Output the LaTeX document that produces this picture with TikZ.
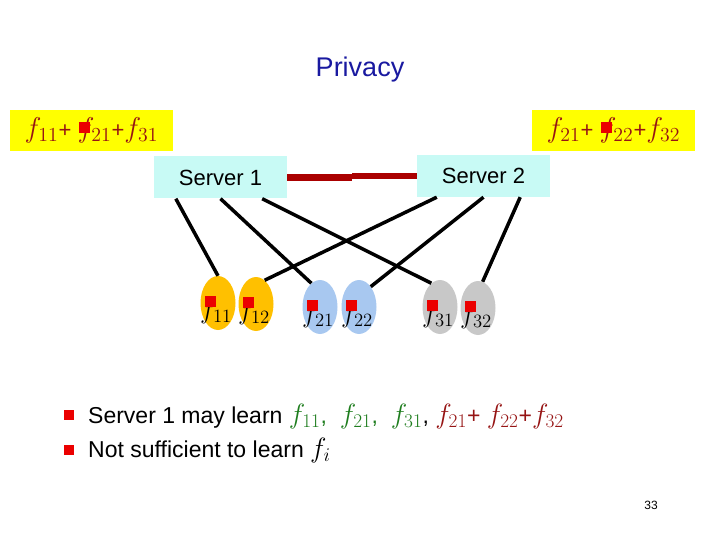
\documentclass[tikz,border=0pt]{standalone}
\usepackage[no-math]{fontspec}
\setmainfont{Liberation Sans}
\usepackage{xcolor}
\usetikzlibrary{shapes.geometric,positioning}

\definecolor{titleblue}{RGB}{25,25,160}
\definecolor{sumred}{RGB}{150,20,20}
\definecolor{sumyellow}{RGB}{255,255,0}
\definecolor{servercyan}{RGB}{200,250,245}
\definecolor{linkred}{RGB}{170,0,0}
\definecolor{glyphred}{RGB}{235,0,0}
\definecolor{orangeblob}{RGB}{255,192,0}
\definecolor{blueblob}{RGB}{168,200,240}
\definecolor{grayblob}{RGB}{200,200,200}
\definecolor{learngreen}{RGB}{30,125,30}

% math f with subscript, scaled up
\newcommand{\fbig}[1]{\scalebox{1.38}{$f_{#1}$}}
\newcommand{\flab}[1]{\scalebox{1.3}{$f_{#1}$}}
\newcommand{\fmid}[1]{\scalebox{1.12}{$f_{#1}$}}

\tikzstyle{sumbox}=[fill=sumyellow, text=sumred, minimum width=163pt, minimum height=41pt,
    inner sep=0pt, font=\fontsize{22}{24}\selectfont]
\tikzstyle{serverbox}=[fill=servercyan, minimum width=133pt, minimum height=42pt,
    inner sep=0pt, font=\fontsize{22}{24}\selectfont]
\tikzstyle{blob}=[ellipse, minimum width=35pt, minimum height=54pt, inner sep=0pt]
\tikzstyle{flabel}=[inner sep=0pt, font=\fontsize{20}{22}\selectfont]
\tikzstyle{glyph}=[fill=glyphred, minimum size=11pt, inner sep=0pt]
\tikzstyle{bullet}=[fill=glyphred, minimum size=10pt, inner sep=0pt]
\tikzstyle{share}=[line width=3.5pt, black]
\tikzstyle{link}=[line width=6.5pt, linkred]

\begin{document}
\begin{tikzpicture}[x=1pt,y=-1pt]
    \useasboundingbox (0,0) rectangle (720,540);

    % Title
    \node[text=titleblue, font=\fontsize{27}{30}\selectfont] (title) at (360,70) {Privacy};

    % Sums kept by the servers
    \node[sumbox] (sum1) at (91.5,130.5) {\fbig{11}+ \fbig{21}+\fbig{31}};
    \node[sumbox] (sum2) at (613.5,130.5) {\fbig{21}+ \fbig{22}+\fbig{32}};
    \node[glyph] (g1) at (84,127.5) {};
    \node[glyph] (g2) at (606,127.5) {};

    % Servers
    \node[serverbox] (s1) at (220.5,177.5) {Server 1};
    \node[serverbox] (s2) at (483.5,176) {Server 2};
    \draw[link] (s1.east) -- ++(65,0);
    \draw[link] (s2.west) -- ++(-65,0);

    % Shares
    \foreach \name/\x/\y/\col in {11/218/303/orangeblob, 12/256/304/orangeblob,
                                  21/320/307/blueblob, 22/359/307/blueblob,
                                  31/440/307/grayblob, 32/478/308/grayblob} {
            \node[blob, fill=\col] (e\name) at (\x,\y) {};
            \node[flabel] (l\name) at ([xshift=-2pt,yshift=-9pt]e\name.center) {\flab{\name}};
            \node[glyph] (q\name) at ([xshift=-8pt,yshift=2pt]e\name.center) {};
        }

    % Connect servers to shares
    \draw[share] ([xshift=22pt]s1.south west) -- (e11.north);
    \draw[share] (s1.south) -- (e21.110);
    \draw[share] ([xshift=-25pt]s1.south east) -- (e31.110);
    \draw[share] ([xshift=20pt]s2.south west) -- (e12.70);
    \draw[share] (s2.south) -- (e22.60);
    \draw[share] ([xshift=-30pt]s2.south east) -- (e32.80);

    % Bullets
    \node[bullet] (b1) at (69,415) {};
    \node[bullet] (b2) at (69,450) {};
    \node[anchor=base west, inner sep=0pt, font=\fontsize{23}{25}\selectfont] (t1) at (88,423)
        {Server 1 may learn {\color{learngreen}\fmid{11},\ \ \fmid{21},\ \ \fmid{31}}, {\color{sumred}\fmid{21}+ \fmid{22}+\fmid{32}}};
    \node[anchor=base west, inner sep=0pt, font=\fontsize{23}{25}\selectfont] (t2) at (88,457.5)
        {Not sufficient to learn \fmid{i}};

    % Page number
    \node[font=\fontsize{12}{14}\selectfont] (page) at (651,505) {33};
\end{tikzpicture}
\end{document}
